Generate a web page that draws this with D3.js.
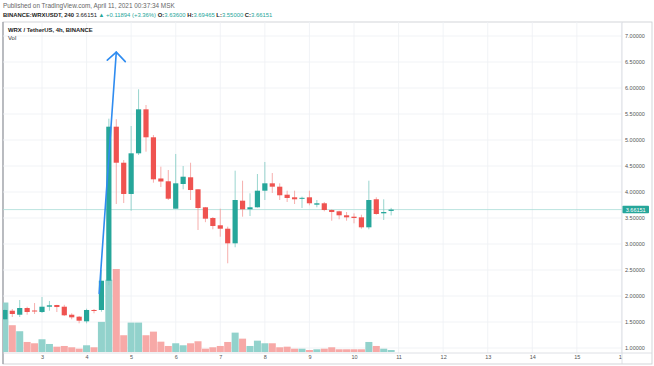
<!DOCTYPE html>
<html>
<head>
<meta charset="utf-8">
<script src="https://cdn.jsdelivr.net/npm/d3@7"></script>
<style>
  body { margin: 0; background: #fff; }
  svg { display: block; font-family: "Liberation Sans", Arial, sans-serif; }
</style>
</head>
<body>
<script>
// WRX / USDT 4h candles, April 2 04:00 -> April 10 20:00 (UTC)
var startTime = Date.UTC(2021, 3, 2, 4);
var stepMs = 4 * 3600 * 1000;

var opens  = [1.552,1.717,1.640,1.769,1.721,1.692,1.794,1.827,1.794,1.640,1.602,1.513,1.731,1.731,2.294,5.256,4.563,3.962,4.744,5.590,5.052,4.260,4.206,3.679,4.154,4.283,4.052,3.706,3.500,3.360,3.294,3.013,3.833,3.667,3.706,4.025,4.167,4.102,3.948,3.898,3.871,3.898,3.756,3.783,3.654,3.629,3.552,3.525,3.513,3.321,3.860,3.590,3.636];
var highs  = [1.750,1.750,1.923,1.794,1.865,1.981,1.904,1.830,1.830,1.667,1.615,1.756,1.750,2.500,5.410,5.400,4.615,5.269,5.975,5.673,5.096,4.487,4.423,4.731,4.500,4.563,4.052,3.712,3.519,3.679,3.333,4.410,4.217,3.975,4.346,4.577,4.365,4.167,4.025,4.025,3.910,4.025,3.846,3.808,3.667,3.640,3.615,3.590,3.563,4.217,3.898,3.860,3.69465];
var lows   = [1.540,1.596,1.596,1.640,1.654,1.673,1.717,1.692,1.615,1.552,1.475,1.475,1.667,1.698,2.210,3.769,3.788,3.640,4.712,4.775,4.179,4.096,3.846,3.679,4.052,3.846,3.269,3.420,3.283,3.140,2.629,2.937,3.525,3.538,3.700,3.846,3.981,3.846,3.808,3.769,3.692,3.744,3.706,3.629,3.448,3.475,3.448,3.398,3.294,3.283,3.563,3.462,3.550];
var closes = [1.731,1.654,1.769,1.692,1.702,1.794,1.821,1.788,1.629,1.590,1.525,1.731,1.715,2.294,5.256,4.563,3.962,4.744,5.590,5.052,4.244,4.202,3.871,4.167,4.294,4.038,3.692,3.487,3.346,3.294,3.013,3.846,3.667,3.706,4.025,4.167,4.102,3.937,3.885,3.860,3.888,3.783,3.783,3.654,3.615,3.552,3.513,3.500,3.321,3.846,3.577,3.615,3.66151];
// volume, millions WRX
var volumes = [4.93,2.67,2.07,1.00,0.87,1.27,0.80,0.53,0.60,0.47,0.33,0.67,0.47,3.00,7.20,8.27,1.67,2.93,2.93,1.67,2.03,1.03,0.60,0.87,0.67,0.87,1.07,0.33,0.47,0.60,1.00,1.93,1.33,0.60,1.13,0.87,0.87,0.47,0.53,0.33,0.33,0.20,0.27,0.33,0.47,0.27,0.27,0.27,0.27,1.00,0.60,0.33,0.20];

var priceTicks = [1, 1.5, 2, 2.5, 3, 3.5, 4, 4.5, 5, 5.5, 6, 6.5, 7];
var dayTicks = [3, 4, 5, 6, 7, 8, 9, 10, 11, 12, 13, 14, 15, 16];
var lastPrice = 3.66151;

// hand drawn arrow: [candle index, price]
var arrowFrom = [12.7, 2.05];
var arrowTo = [15.0, 6.69];

var upColor = "#26a69a", downColor = "#ef5350";
var upVol = "#92d2cc", downVol = "#f7a9a7";

var width = 654, height = 366;
var pane = { left: 3, top: 22, right: 622, bottom: 353 };

var candles = opens.map(function (o, i) {
  return { t: new Date(startTime + i * stepMs), o: o, h: highs[i], l: lows[i], c: closes[i], v: volumes[i] };
});

var x = d3.scaleUtc()
  .domain([new Date(Date.UTC(2021, 3, 3)), new Date(Date.UTC(2021, 3, 10))])
  .range([42, 354]);
var y = d3.scaleLinear().domain([1, 7]).range([348, 36]);
var yVol = d3.scaleLinear().domain([0, d3.max(volumes)]).range([352, 269]);

var svg = d3.select("body").append("svg")
  .attr("width", width)
  .attr("height", height);

// header
svg.append("text").attr("x", 3).attr("y", 8).attr("fill", "#666")
  .style("font-size", "6.4px")
  .text("Published on TradingView.com, April 11, 2021 00:37:34 MSK");

var line2 = svg.append("text").attr("x", 3).attr("y", 17).attr("fill", "#222")
  .style("font-size", "5.9px");
line2.append("tspan").attr("font-weight", "bold").text("BINANCE:WRXUSDT, 240 ");
line2.append("tspan").text("3.66151 ");
line2.append("tspan").attr("fill", upColor).text("\u25B2 +0.11894 (+3.36%) ");
[["O:", "3.63600"], ["H:", "3.69465"], ["L:", "3.55000"], ["C:", "3.66151"]].forEach(function (p) {
  line2.append("tspan").attr("font-weight", "bold").attr("fill", "#222").text(p[0]);
  line2.append("tspan").attr("fill", upColor).text(p[1] + " ");
});

// frame
svg.append("rect")
  .attr("x", pane.left).attr("y", pane.top)
  .attr("width", 652 - pane.left).attr("height", 364 - pane.top)
  .attr("fill", "none").attr("stroke", "#c8cad0").attr("stroke-width", 0.8);
svg.append("line")
  .attr("x1", pane.left).attr("x2", pane.left).attr("y1", pane.top).attr("y2", 364)
  .attr("stroke", "#9a9ca3").attr("stroke-width", 1.2);

var defs = svg.append("defs");
defs.append("clipPath").attr("id", "clip")
  .append("rect")
  .attr("x", pane.left).attr("y", pane.top)
  .attr("width", pane.right - pane.left).attr("height", pane.bottom - pane.top);
defs.append("clipPath").attr("id", "clipx")
  .append("rect").attr("x", pane.left).attr("y", pane.bottom)
  .attr("width", pane.right - pane.left).attr("height", 12);

var plot = svg.append("g").attr("clip-path", "url(#clip)");

// grid
plot.selectAll(".hgrid").data(priceTicks).enter().append("line")
  .attr("x1", pane.left).attr("x2", pane.right)
  .attr("y1", function (d) { return y(d); }).attr("y2", function (d) { return y(d); })
  .attr("stroke", "#eef0f4").attr("stroke-width", 0.8);
plot.selectAll(".vgrid").data(dayTicks).enter().append("line")
  .attr("x1", function (d) { return x(new Date(Date.UTC(2021, 3, d))); })
  .attr("x2", function (d) { return x(new Date(Date.UTC(2021, 3, d))); })
  .attr("y1", pane.top).attr("y2", pane.bottom)
  .attr("stroke", "#eef0f4").attr("stroke-width", 0.8);

// volume
var step = x(new Date(startTime + stepMs)) - x(new Date(startTime));
plot.selectAll(".vol").data(candles).enter().append("rect")
  .attr("x", function (d) { return x(d.t) - step / 2 + 0.2; })
  .attr("width", step - 0.4)
  .attr("y", function (d) { return yVol(d.v); })
  .attr("height", function (d) { return yVol(0) - yVol(d.v); })
  .attr("fill", function (d) { return d.c >= d.o ? upVol : downVol; });

// last price line
plot.append("line")
  .attr("x1", pane.left).attr("x2", pane.right)
  .attr("y1", y(lastPrice)).attr("y2", y(lastPrice))
  .attr("stroke", "#a8dcd7").attr("stroke-width", 0.8);

// candles
var bodyW = 5.2;
var cg = plot.selectAll(".candle").data(candles).enter().append("g");
cg.append("line")
  .attr("x1", function (d) { return x(d.t); }).attr("x2", function (d) { return x(d.t); })
  .attr("y1", function (d) { return y(d.h); }).attr("y2", function (d) { return y(d.l); })
  .attr("stroke", function (d) { return d.c >= d.o ? "#7fcac2" : "#f49a98"; })
  .attr("stroke-width", 0.8);
cg.append("rect")
  .attr("x", function (d) { return x(d.t) - bodyW / 2; })
  .attr("width", bodyW)
  .attr("y", function (d) { return y(Math.max(d.o, d.c)); })
  .attr("height", function (d) { return Math.max(1, Math.abs(y(d.o) - y(d.c))); })
  .attr("fill", function (d) { return d.c >= d.o ? upColor : downColor; });

// blue arrow drawing
function ax(p) { return x(new Date(startTime + p[0] * stepMs)); }
var tip = [ax(arrowTo), y(arrowTo[1])];
plot.append("line")
  .attr("x1", ax(arrowFrom)).attr("y1", y(arrowFrom[1]))
  .attr("x2", tip[0]).attr("y2", tip[1])
  .attr("stroke", "#2f8cf0").attr("stroke-width", 1.6).attr("stroke-linecap", "round");
plot.append("path")
  .attr("d", "M" + (tip[0] - 9) + "," + (tip[1] + 8) + "L" + tip[0] + "," + tip[1] + "L" + (tip[0] + 9) + "," + (tip[1] + 9.5))
  .attr("fill", "none").attr("stroke", "#2f8cf0").attr("stroke-width", 1.6)
  .attr("stroke-linecap", "round").attr("stroke-linejoin", "round");

// pane titles
svg.append("text").attr("x", 8).attr("y", 32).attr("font-size", "5.9px")
  .attr("font-weight", "bold").attr("fill", "#222").text("WRX / TetherUS, 4h, BINANCE");
svg.append("text").attr("x", 8).attr("y", 40).attr("font-size", "5.9px")
  .attr("fill", "#333").text("Vol");

// axis separators
svg.append("line").attr("x1", pane.right).attr("x2", pane.right)
  .attr("y1", pane.top).attr("y2", 364).attr("stroke", "#d6d8de").attr("stroke-width", 0.8);
svg.append("line").attr("x1", pane.left).attr("x2", 652)
  .attr("y1", pane.bottom).attr("y2", pane.bottom).attr("stroke", "#d6d8de").attr("stroke-width", 0.8);

// price axis
var yAxis = d3.axisRight(y).tickValues(priceTicks)
  .tickFormat(function (d) { return d3.format(".5f")(d); })
  .tickSize(0).tickPadding(0);
svg.append("g")
  .attr("transform", "translate(" + (pane.right + 3) + ",0)")
  .call(yAxis)
  .call(function (g) { g.select(".domain").remove(); })
  .selectAll("text")
  .style("font-size", "5.5px").attr("fill", "#555")
  .style("font-family", "Liberation Sans, Arial, sans-serif");

// last price tag
svg.append("rect")
  .attr("x", pane.right + 0.5).attr("y", y(lastPrice) - 3.8)
  .attr("width", 26.5).attr("height", 7.4)
  .attr("rx", 0.8).attr("fill", upColor);
svg.append("text")
  .attr("x", pane.right + 13.7).attr("y", y(lastPrice) + 1.9)
  .attr("text-anchor", "middle").attr("font-size", "5.5px").attr("fill", "#fff")
  .text(d3.format(".5f")(lastPrice));

// time axis, clipped at the price scale
var xAxis = d3.axisBottom(x)
  .tickValues(dayTicks.map(function (d) { return new Date(Date.UTC(2021, 3, d)); }))
  .tickFormat(d3.utcFormat("%-d")).tickSize(0).tickPadding(0);
svg.append("g")
  .attr("clip-path", "url(#clipx)")
  .append("g")
  .attr("transform", "translate(0," + (pane.bottom + 2.5) + ")")
  .call(xAxis)
  .call(function (g) { g.select(".domain").remove(); })
  .selectAll("text")
  .style("font-size", "5.5px").attr("fill", "#555")
  .style("font-family", "Liberation Sans, Arial, sans-serif");
</script>
</body>
</html>
